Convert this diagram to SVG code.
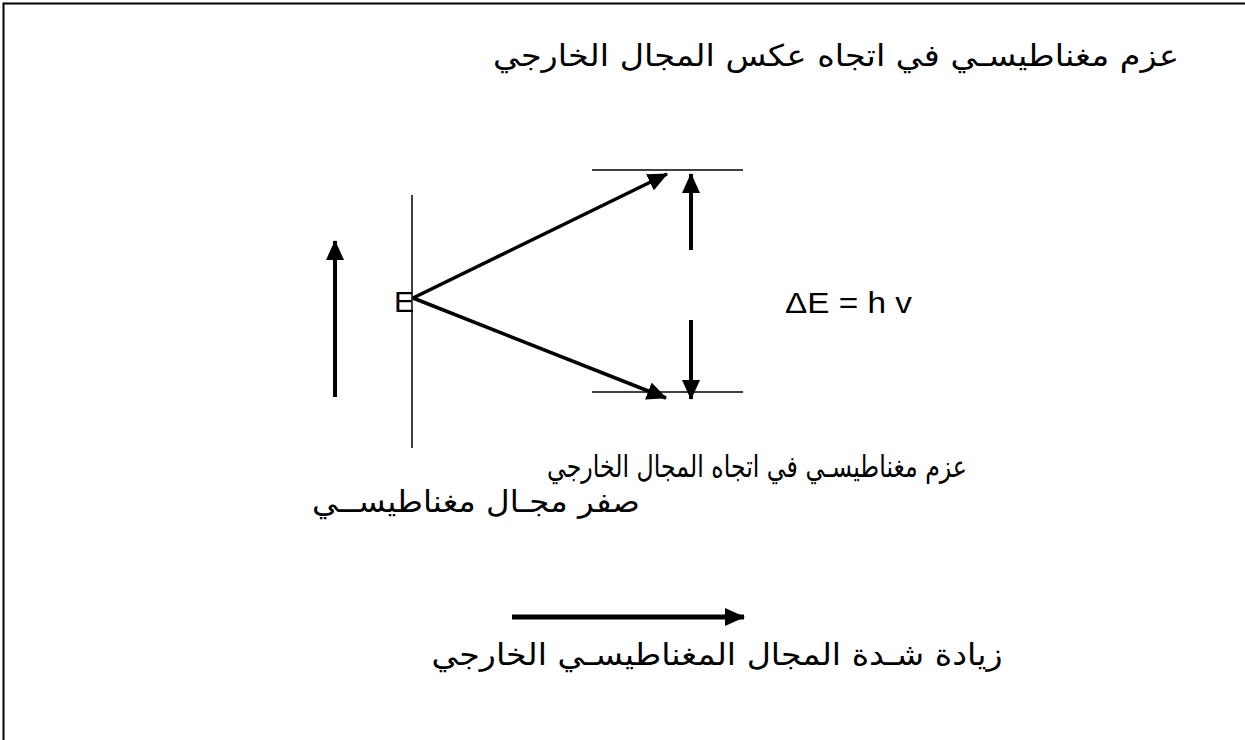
<svg xmlns="http://www.w3.org/2000/svg" width="1245" height="740" viewBox="0 0 1245 740">
<defs>
<style>
.thin{stroke:#000;stroke-width:1.5;fill:none}
.arr{stroke:#000;stroke-width:3.5;fill:none;marker-end:url(#ah)}
.ar{font-family:"DejaVu Sans",sans-serif;font-size:30px;fill:#000}
.lat{font-family:"Liberation Sans",Arial,sans-serif;fill:#000}
</style>
<marker id="ah" viewBox="0 0 20 18" refX="19" refY="9" markerWidth="20" markerHeight="18" orient="auto" markerUnits="userSpaceOnUse">
<path d="M0,0 L20,9 L0,18 z" fill="#000"/>
</marker>
</defs>
<rect x="0" y="0" width="1245" height="740" fill="#fff"/>
<path d="M3.5,760 V3.5 H1260" stroke="#000" stroke-width="2" fill="none"/>
<g id="axis"><line class="thin" x1="412" y1="195" x2="412" y2="448"/></g>
<g id="levels">
<line class="thin" x1="592" y1="170" x2="743" y2="170"/>
<line class="thin" x1="592" y1="392" x2="743" y2="392"/>
</g>
<g id="connectors">
<line class="arr" style="stroke-width:4" x1="335" y1="397" x2="335" y2="241"/>
<line class="arr" x1="413" y1="298" x2="667" y2="174"/>
<line class="arr" x1="413" y1="298" x2="666" y2="398"/>
<line class="arr" style="stroke-width:4" x1="691" y1="250" x2="691" y2="174"/>
<line class="arr" style="stroke-width:4" x1="691" y1="320" x2="691" y2="399"/>
<line class="arr" style="stroke-width:5" x1="512" y1="617" x2="744" y2="617"/>
</g>
<g id="labelE"><text class="lat" x="394" y="312" font-size="30">E</text></g>
<g id="deltaE"><text class="lat" x="785" y="313" font-size="30" textLength="127" lengthAdjust="spacingAndGlyphs">ΔE = h v</text></g>
<g id="t1"><text class="ar" x="836" y="66" text-anchor="middle" textLength="686" lengthAdjust="spacingAndGlyphs">عزم مغناطيسـي في اتجاه عكس المجال الخارجي</text></g>
<g id="t2"><text class="ar" x="757" y="477" text-anchor="middle" textLength="420" lengthAdjust="spacingAndGlyphs">عزم مغناطيسـي في اتجاه المجال الخارجي</text></g>
<g id="t3"><text class="ar" x="476" y="512" text-anchor="middle" textLength="328" lengthAdjust="spacingAndGlyphs">صفر مجـال مغناطيســي</text></g>
<g id="t4"><text class="ar" x="717" y="665" text-anchor="middle" textLength="571" lengthAdjust="spacingAndGlyphs">زيادة شـدة المجال المغناطيسـي الخارجي</text></g>
</svg>
